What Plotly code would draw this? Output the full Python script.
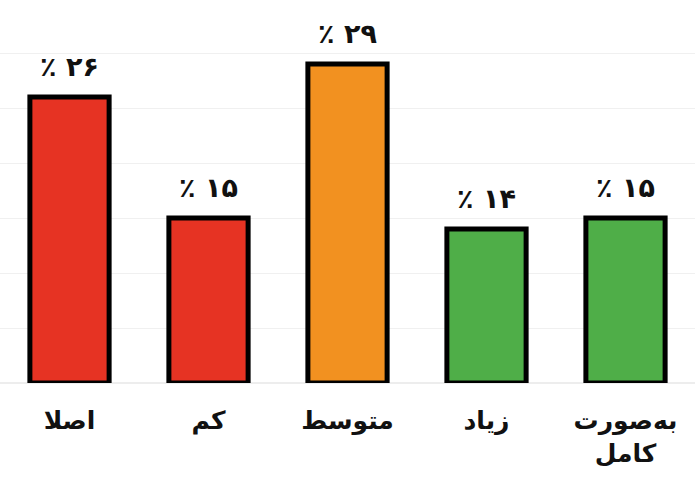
import plotly.graph_objects as go

categories = ["اصلا", "کم", "متوسط", "زیاد", "به‌صورت<br>کامل"]
values = [26, 15, 29, 14, 15]
colors = ["#E63323", "#E63323", "#F29120", "#4FAE48", "#4FAE48"]

fa_digits = str.maketrans("0123456789", "۰۱۲۳۴۵۶۷۸۹")
labels = ["٪ " + str(v).translate(fa_digits) for v in values]

fig = go.Figure()
fig.add_trace(
    go.Bar(
        x=categories,
        y=values,
        marker=dict(color=colors, line=dict(color="#000000", width=5)),
        hoverinfo="skip",
    )
)
fig.add_trace(
    go.Scatter(
        x=categories,
        y=values,
        mode="markers+text",
        text=labels,
        textposition="top center",
        marker=dict(size=22, opacity=0),
        textfont=dict(family="DejaVu Sans", size=27, color="#111111", weight="bold"),
        cliponaxis=False,
        hoverinfo="skip",
    )
)

fig.update_layout(
    width=695,
    height=478,
    margin=dict(l=0, r=0, t=20, b=95, autoexpand=False),
    paper_bgcolor="#FFFFFF",
    plot_bgcolor="#FFFFFF",
    bargap=0.43,
    showlegend=False,
    xaxis=dict(
        automargin=False,
        showgrid=False,
        showline=False,
        ticks="",
        ticklabelstandoff=20,
        tickfont=dict(family="DejaVu Sans", size=25, color="#111111", weight="bold"),
    ),
    yaxis=dict(
        automargin=False,
        range=[0, 33],
        dtick=5,
        showgrid=True,
        gridcolor="#F0F0F0",
        gridwidth=1,
        zeroline=True,
        zerolinecolor="#EDEDED",
        showticklabels=False,
        ticks="",
    ),
)

fig.write_html(
    "out.html",
    config={"displayModeBar": False},
    post_script="document.body.style.margin='0';document.body.style.overflow='hidden';",
)
